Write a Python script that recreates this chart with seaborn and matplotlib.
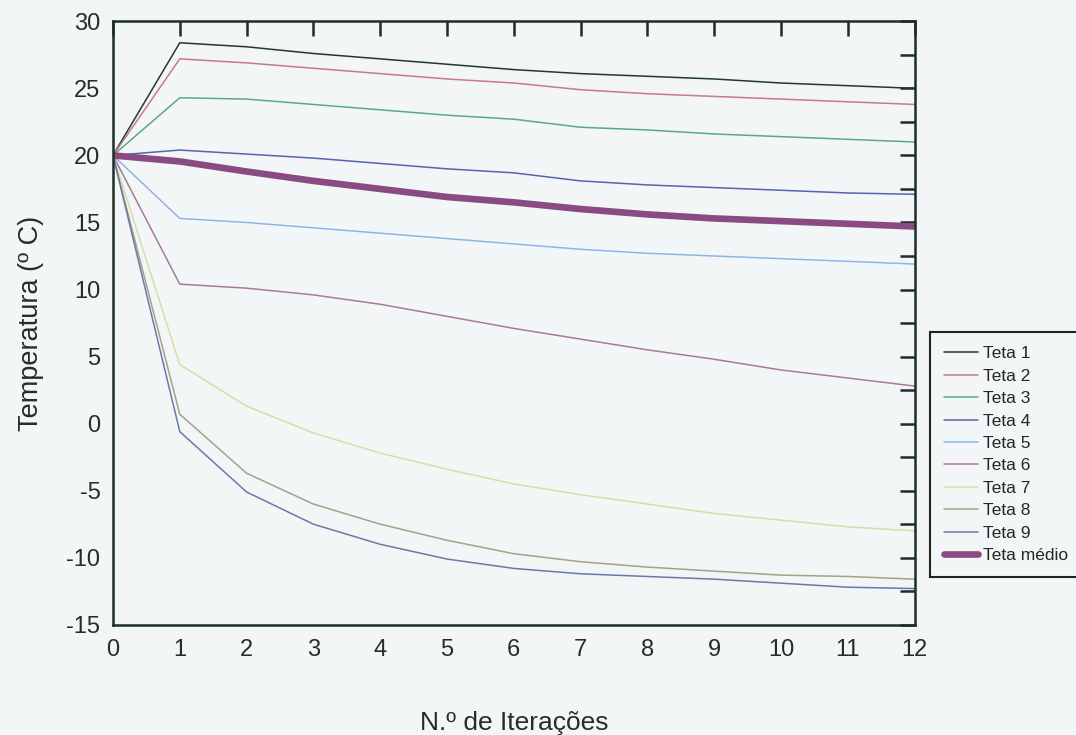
import matplotlib
matplotlib.use("Agg")
import matplotlib.pyplot as plt
import seaborn as sns
import pandas as pd
from matplotlib.ticker import MultipleLocator

iteracoes = list(range(13))
teta1 = [20, 28.4, 28.1, 27.6, 27.2, 26.8, 26.4, 26.1, 25.9, 25.7, 25.4, 25.2, 25.0]
teta2 = [20, 27.2, 26.9, 26.5, 26.1, 25.7, 25.4, 24.9, 24.6, 24.4, 24.2, 24.0, 23.8]
teta3 = [20, 24.3, 24.2, 23.8, 23.4, 23.0, 22.7, 22.1, 21.9, 21.6, 21.4, 21.2, 21.0]
teta4 = [20, 20.4, 20.1, 19.8, 19.4, 19.0, 18.7, 18.1, 17.8, 17.6, 17.4, 17.2, 17.1]
teta5 = [20, 15.3, 15.0, 14.6, 14.2, 13.8, 13.4, 13.0, 12.7, 12.5, 12.3, 12.1, 11.9]
teta6 = [20, 10.4, 10.1, 9.6, 8.9, 8.0, 7.1, 6.3, 5.5, 4.8, 4.0, 3.4, 2.8]
teta7 = [20, 4.4, 1.3, -0.7, -2.2, -3.4, -4.5, -5.3, -6.0, -6.7, -7.2, -7.7, -8.0]
teta8 = [20, 0.7, -3.7, -6.0, -7.5, -8.7, -9.7, -10.3, -10.7, -11.0, -11.3, -11.4, -11.6]
teta9 = [20, -0.6, -5.1, -7.5, -9.0, -10.1, -10.8, -11.2, -11.4, -11.6, -11.9, -12.2, -12.3]
teta_medio = [20, 19.55, 18.8, 18.1, 17.5, 16.9, 16.5, 16.0, 15.6, 15.3, 15.1, 14.9, 14.7]

nomes = ["Teta 1", "Teta 2", "Teta 3", "Teta 4", "Teta 5", "Teta 6",
         "Teta 7", "Teta 8", "Teta 9", "Teta médio"]
series = [teta1, teta2, teta3, teta4, teta5, teta6, teta7, teta8, teta9, teta_medio]
cores = ["#1f3a30", "#c8798a", "#5aa88a", "#5563b0", "#8eb4e6", "#a87a98",
         "#d9dca8", "#a4a384", "#6a7aa8", "#8a4a82"]
larguras = [1.1] * 9 + [4.8]

sns.set_theme(style="white")
plt.rcParams['font.family'] = ['Liberation Sans', 'DejaVu Sans']
plt.rcParams['axes.unicode_minus'] = False

bg = "#f3f6f6"
fig = plt.figure(figsize=(10.76, 7.35), dpi=100, facecolor=bg)
ax = fig.add_axes([0.105, 0.150, 0.745, 0.821])
ax.set_facecolor(bg)

for nome, vals, cor, lw in zip(nomes, series, cores, larguras):
    df = pd.DataFrame({"x": iteracoes, "y": vals})
    sns.lineplot(data=df, x="x", y="y", ax=ax, color=cor, linewidth=lw, label=nome)

ax.set_xlim(0, 12)
ax.set_ylim(-15, 30)
ax.xaxis.set_major_locator(MultipleLocator(1))
ax.yaxis.set_major_locator(MultipleLocator(5))
ax.yaxis.set_minor_locator(MultipleLocator(2.5))

axcol = "#1c2e28"
txtcol = "#2a2a2a"
for s in ax.spines.values():
    s.set_visible(True)
    s.set_color(axcol)
    s.set_linewidth(1.8)
ax.tick_params(axis="both", which="both", direction="in", length=11, width=1.8,
               color=axcol, top=True, right=True, labelsize=17, labelcolor=txtcol)
ax.tick_params(axis="x", which="major", pad=10)
ax.tick_params(axis="y", which="major", pad=9)
ax.tick_params(axis="y", which="minor", length=11, width=1.8)

ax.set_xlabel("N.º de Iterações", fontsize=19, color=txtcol, labelpad=36)
ax.set_ylabel("Temperatura (º C)", fontsize=19.5, color=txtcol, labelpad=16)

leg = ax.legend(loc="upper left", bbox_to_anchor=(0.864, 0.548),
                bbox_transform=fig.transFigure, frameon=True, fancybox=False,
                fontsize=12.5, handlelength=2.0, handletextpad=0.25, borderpad=0.8,
                labelspacing=0.42, borderaxespad=0)
leg.get_frame().set_edgecolor("#222222")
leg.get_frame().set_linewidth(1.5)
leg.get_frame().set_facecolor(bg)
leg.get_frame().set_alpha(1)

fig.savefig("out.png", dpi=100, facecolor=bg)
